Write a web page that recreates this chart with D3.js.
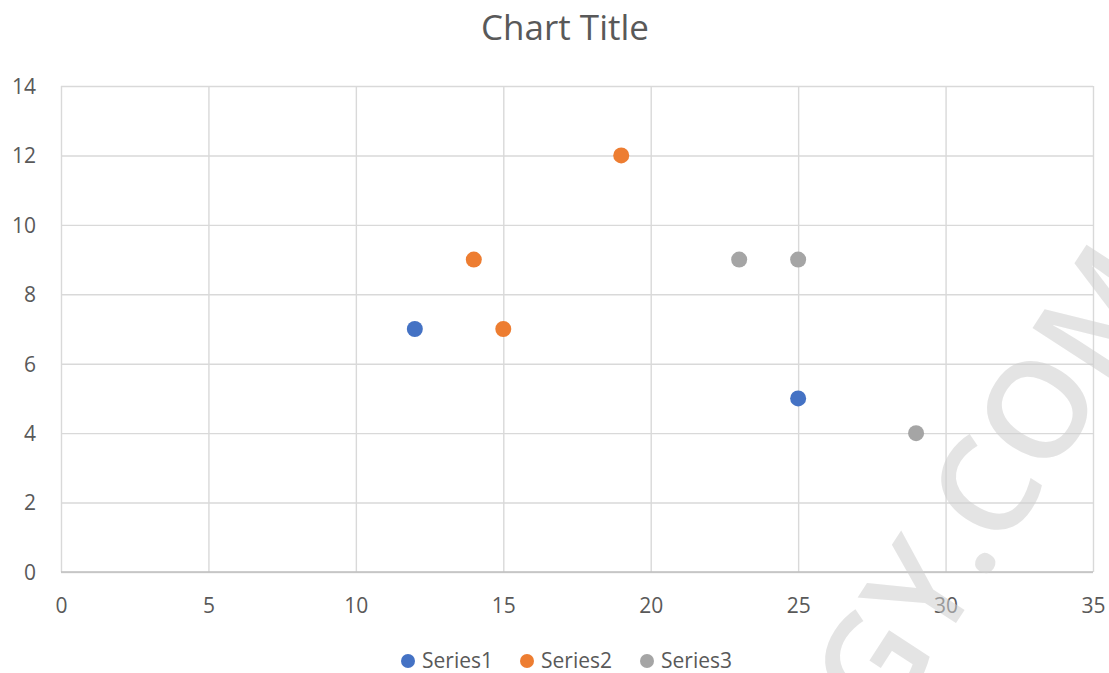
<!DOCTYPE html>
<html>
<head>
<meta charset="utf-8">
<script src="https://cdn.jsdelivr.net/npm/d3@7"></script>
<style>
  body { margin: 0; background: #fff; }
  text { font-family: "Open Sans", sans-serif; fill: #595959; }
</style>
</head>
<body>
<div id="chart"></div>
<script>
const seriesNames = ["Series1", "Series2", "Series3"];
const seriesColors = ["#4472C4", "#ED7D31", "#A5A5A5"];
const series1 = [{x: 12, y: 7}, {x: 25, y: 5}];
const series2 = [{x: 14, y: 9}, {x: 15, y: 7}, {x: 19, y: 12}];
const series3 = [{x: 23, y: 9}, {x: 25, y: 9}, {x: 29, y: 4}];
const xTicks = [0, 5, 10, 15, 20, 25, 30, 35];
const yTicks = [0, 2, 4, 6, 8, 10, 12, 14];

const width = 1109;
const height = 673;
const margin = {top: 86, right: 16, bottom: 101, left: 61};

const svg = d3.select("#chart").append("svg").attr("width", width).attr("height", height);

const xScale = d3.scaleLinear().domain([0, 35]).range([margin.left, width - margin.right]);
const yScale = d3.scaleLinear().domain([0, 14]).range([height - margin.bottom, margin.top]);

// gridlines + labels through the axes
const xAxis = d3.axisBottom(xScale).tickValues(xTicks).tickSize(-(yScale(0) - yScale(14))).tickPadding(0);
const yAxis = d3.axisLeft(yScale).tickValues(yTicks).tickSize(-(xScale(35) - xScale(0))).tickPadding(0);

const gx = svg.append("g").attr("transform", `translate(0, ${yScale(0)})`).call(xAxis);
const gy = svg.append("g").attr("transform", `translate(${xScale(0)}, 0)`).call(yAxis);

[gx, gy].forEach(g => {
    g.select(".domain").remove();
    g.selectAll(".tick line").attr("stroke", "#d9d9d9").attr("stroke-width", 1.4);
    g.selectAll(".tick text").attr("font-size", 21).attr("fill", "#595959").attr("font-family", "Open Sans, sans-serif");
});
gx.selectAll(".tick text").attr("y", 26).attr("dy", "0.71em");
gy.selectAll(".tick text").attr("x", -25).attr("dy", "0.35em");

// bottom axis line
svg.append("line")
    .attr("x1", xScale(0)).attr("x2", xScale(35))
    .attr("y1", yScale(0)).attr("y2", yScale(0))
    .attr("stroke", "#bfbfbf").attr("stroke-width", 1.4);

// title
svg.append("text").attr("x", 565).attr("y", 40).attr("text-anchor", "middle")
    .attr("font-size", 35).text("Chart Title");

// points
const allSeries = [series1, series2, series3];
allSeries.forEach((data, i) => {
    svg.append("g").selectAll("circle").data(data).enter().append("circle")
        .attr("cx", d => xScale(d.x)).attr("cy", d => yScale(d.y))
        .attr("r", 8).attr("fill", seriesColors[i]);
});

// legend
const legendX = [408, 527, 647];
const legend = svg.append("g");
seriesNames.forEach((name, i) => {
    legend.append("circle").attr("cx", legendX[i]).attr("cy", 661).attr("r", 7).attr("fill", seriesColors[i]);
    legend.append("text").attr("x", legendX[i] + 14).attr("y", 668).attr("font-size", 21).text(name);
});

// watermark
const wm = svg.append("g").attr("transform", "translate(982, 583) rotate(-57)").attr("opacity", 0.55);
wm.append("text").attr("text-anchor", "end").attr("font-size", 135).attr("font-weight", 600)
    .attr("font-family", "Open Sans, sans-serif").style("fill", "#cfcfcf").text("OGY");
wm.append("text").attr("text-anchor", "start").attr("font-size", 135).attr("font-weight", 600)
    .attr("font-family", "Open Sans, sans-serif").style("fill", "#cfcfcf").text(".COM");
</script>
</body>
</html>
